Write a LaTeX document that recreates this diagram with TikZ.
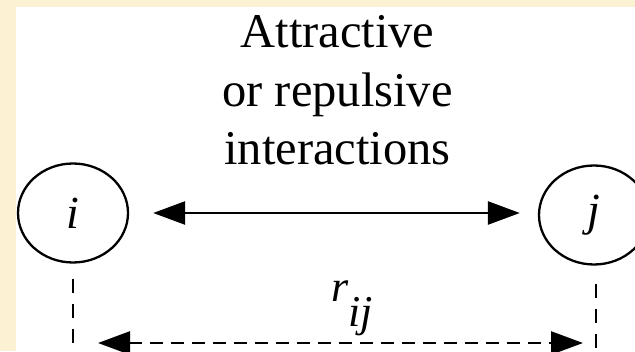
\documentclass[tikz,border=0pt]{standalone}
\usepackage{fontspec}
\setmainfont{Liberation Serif}
\usepackage{tikz}
\usetikzlibrary{shapes.geometric, arrows.meta, positioning, calc}
\definecolor{paper}{RGB}{253,241,212}

\begin{document}
\begin{tikzpicture}[
    x=1pt, y=1pt,
    particle/.style={draw, ellipse, line width=2.3pt, minimum width=110pt, minimum height=99pt, inner sep=0pt, font=\fontsize{46}{46}\selectfont\itshape},
    force/.style={line width=2.6pt, {Triangle[length=32pt, width=23pt]}-{Triangle[length=32pt, width=23pt]}},
    gap/.style={line width=2.6pt, dash pattern=on 13pt off 8pt, {Triangle[length=32pt, width=23pt]}-{Triangle[length=32pt, width=23pt]}},
    drop/.style={line width=2.4pt, dash pattern=on 14pt off 11pt}
]
\useasboundingbox (0,0) rectangle (635,351);
\clip (0,0) rectangle (635,351);
\fill[paper] (0,0) rectangle (635,351);
\fill[white] (16,0) rectangle (635,344);
\node[particle] (i) at (73, 138)  {i};
\node[particle] (j) at (594, 136) {j};
\node[align=center, anchor=base, inner sep=0pt, font=\fontsize{48.5}{58.5}\selectfont] (what) at (337.5, 186) {Attractive\\or repulsive\\interactions};
\draw[force] ([xshift=24pt]i.east) -- ([xshift=-18pt]i.east -| j.west);
\coordinate (ifoot) at (73, 0);
\coordinate (jfoot) at (596, 0);
\coordinate (left)  at (98, 8);
\coordinate (right) at (583, 8);
\draw[drop] ([yshift=-15pt]i.south) -- (ifoot);
\draw[drop] ([yshift=-18pt]j.south -| jfoot) -- (jfoot);
\draw[gap] (left) -- (right);
\node[anchor=base west, inner sep=0pt, font=\fontsize{44}{44}\selectfont\itshape] (rij) at (331, 49) {r\raisebox{-25pt}{ij}};
\end{tikzpicture}
\end{document}
